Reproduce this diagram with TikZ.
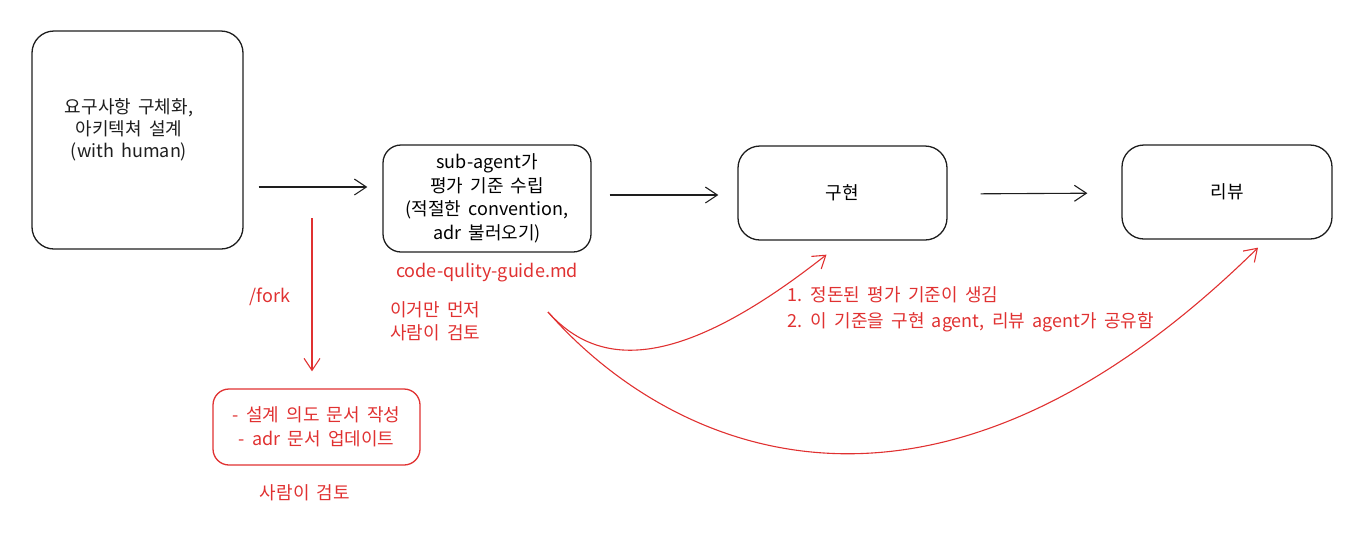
\documentclass[tikz,border=0pt]{standalone}
\usepackage{fontspec}
\setmainfont[WordSpace=1.8]{Noto Sans CJK KR}
\usetikzlibrary{arrows.meta}

\definecolor{inkblack}{HTML}{1E1E1E}
\definecolor{inkred}{HTML}{E03131}

\tikzset{
  box/.style={draw=inkblack, line width=1.3pt, rounded corners=22pt, align=center, inner sep=0pt},
  redbox/.style={box, draw=inkred, text=inkred, rounded corners=16pt},
  flow/.style={draw=inkblack, line width=1.1pt, -{Straight Barb[length=12pt,width=16pt,line width=1.1pt]}},
  redflow/.style={flow, draw=inkred},
  note/.style={text=inkred, align=left, inner sep=0pt},
}

\begin{document}
\begin{tikzpicture}[x=1pt,y=-1pt,font=\fontsize{18}{25}\selectfont]
        \useasboundingbox(0,0)rectangle(1367,539);

        % main flow
        \node[box,minimum width=211pt,minimum height=218pt](req)at(137.5,140){};
        \node[align=center,text=inkblack,font=\fontsize{18}{22}\selectfont](reqtext)at(129,130){요구사항 구체화,\\아키텍쳐 설계\\(with human)};
        \node[box,rounded corners=18pt,minimum width=208pt,minimum height=107pt,font=\fontsize{18}{23.5}\selectfont](sub)at(487,198.5){sub-agent가\\평가 기준 수립\\(적절한 convention,\\adr 불러오기)};
        \node[box,minimum width=209pt,minimum height=94pt](impl)at(842.5,193){구현};
        \node[box,minimum width=210pt,minimum height=94pt](rev)at(1227,192){리뷰};

        \draw[flow,shorten <=15pt,shorten >=15pt]([yshift=-47pt]req.east)--([yshift=11.5pt]sub.west);
        \draw[flow,shorten <=18pt,shorten >=19pt]([yshift=3.5pt]sub.east)--([yshift=-2pt]impl.west);
        \draw[flow,shorten <=33pt,shorten >=34pt]([yshift=-1pt]impl.east)--([yshift=-1pt]rev.west);

        % fork branch
        \coordinate(fork)at(312,218);
        \node[redbox,minimum width=207pt,minimum height=76pt,font=\fontsize{18}{24}\selectfont](doc)at(316.5,427){- 설계 의도 문서 작성\\- adr 문서 업데이트};
        \draw[redflow,shorten >=17pt](fork)--([xshift=-4.5pt]doc.north);
        \node[note](forklabel)at(270,297){/fork};
        \node[note](docreview)at(305,493){사람이 검토};

        % guide notes
        \node[note](guide)at(487,273){code-qulity-guide.md};
        \node[note,anchor=west,font=\fontsize{18}{23}\selectfont](firstreview)at(390,321){이거만 먼저\\사람이 검토};
        \node[note,anchor=west,font=\fontsize{18}{26}\selectfont](shared)at(787,309){1. 정돈된 평가 기준이 생김\\2. 이 기준을 구현 agent, 리뷰 agent가 공유함};

        % shared guide curves
        \coordinate(split)at(548,312);
        \draw[redflow](split)..controls(600,370)and(680,370)..([xshift=-16pt,yshift=-14pt]impl.south);
        \draw[redflow](split)..controls(660,440)and(920,580)..([xshift=31pt,yshift=-8pt]rev.south);
    \end{tikzpicture}
\end{document}
